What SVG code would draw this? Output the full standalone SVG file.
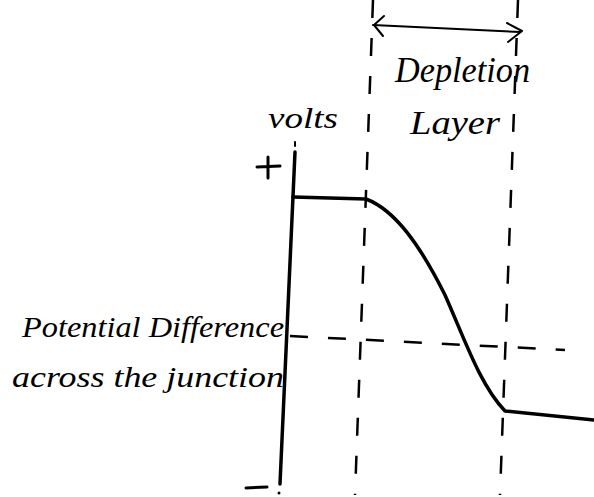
<svg xmlns="http://www.w3.org/2000/svg" width="594" height="497" viewBox="0 0 594 497">
<style>
.t{font-family:"Liberation Serif",serif;font-style:italic;fill:#000}
.ln{stroke:#000;fill:none;stroke-linecap:round;stroke-linejoin:round}
.dash{stroke:#000;fill:none;stroke-width:2.5;stroke-dasharray:18 20}
</style>
<rect width="594" height="497" fill="#fff"/>
<g id="axis">
<line class="ln" x1="295" y1="152" x2="280" y2="484" stroke-width="3.5"/>
<line class="ln" x1="295" y1="142" x2="295" y2="146" stroke-width="2"/>
<circle cx="279" cy="493" r="1.5"/>
<path class="ln" d="M257 167 L280 166 M268 157 L268 178" stroke-width="3"/>
<line class="ln" x1="246" y1="488" x2="267" y2="487" stroke-width="3"/>
</g>
<g id="connectors">
<line class="dash" x1="373" y1="0" x2="355" y2="495"/>
<line class="dash" x1="518" y1="0" x2="500" y2="495"/>
<line class="dash" x1="290" y1="336" x2="565" y2="350" stroke-dasharray="22 16"/>
<path class="ln" d="M373 25 L520 32" stroke-width="2"/>
<path class="ln" d="M384 16 L374 25 L383 36" stroke-width="2"/>
<path class="ln" d="M507 23 L522 31 L508 42" stroke-width="2"/>
</g>
<g id="curve">
<path class="ln" stroke-width="3.5" d="M293 197 L366 199 C 395 210, 420 245, 445 295 C 465 340, 480 385, 505 411 L594 420"/>
</g>
<g id="labels">
<text class="t" x="268" y="128" font-size="30" textLength="70" lengthAdjust="spacingAndGlyphs">volts</text>
<text class="t" x="395" y="82" font-size="36" textLength="135" lengthAdjust="spacingAndGlyphs">Depletion</text>
<text class="t" x="410" y="134" font-size="34" textLength="90" lengthAdjust="spacingAndGlyphs">Layer</text>
<text class="t" x="22" y="337" font-size="30" textLength="262" lengthAdjust="spacingAndGlyphs">Potential Difference</text>
<text class="t" x="12" y="387" font-size="30" textLength="272" lengthAdjust="spacingAndGlyphs">across the junction</text>
</g>
</svg>
